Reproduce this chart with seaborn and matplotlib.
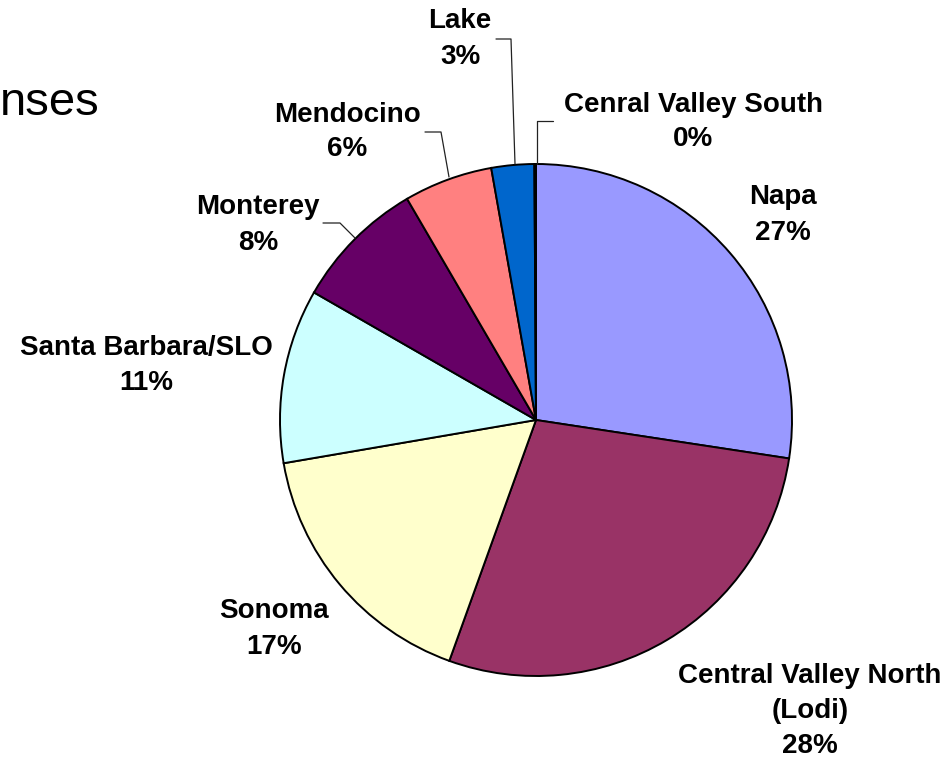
import seaborn as sns
import matplotlib.pyplot as plt

# slice values (percent of responses), clockwise from 12 o'clock
regions = ['Napa', 'Central Valley North\n(Lodi)', 'Sonoma', 'Santa Barbara/SLO',
           'Monterey', 'Mendocino', 'Lake', 'Cenral Valley South']
shares = [27.4, 28.1, 16.8, 11.0, 8.3, 5.6, 2.7, 0.1]
colors = ['#9999FF', '#993366', '#FFFFCC', '#CCFFFF',
          '#660066', '#FF8080', '#0066CC', '#CCCCFF']

# label block centres and leader lines, in pixels of the 950x766 figure
label_px = [(783, 215), (810, 711), (274, 629), (146, 366),
            (258, 225), (347, 132), (460, 39), (693, 122)]
leaders_px = {
    'Lake': [(496, 39), (511, 39), (515, 164)],
    'Cenral Valley South': [(553, 121), (537, 121), (537, 164)],
    'Mendocino': [(425, 132), (441, 132), (449, 177)],
    'Monterey': [(323, 223), (340, 223), (355, 238)],
}

sns.set_style('white')
plt.rcParams['font.family'] = ['Liberation Sans', 'DejaVu Sans']
plt.rcParams['text.color'] = 'black'

W, H = 950, 766
cx, cy, r = 536, 420, 256

fig = plt.figure(figsize=(W / 100, H / 100), dpi=100)
ax = fig.add_axes([(cx - r) / W, (H - cy - r) / H, 2 * r / W, 2 * r / H])
ax.pie(shares, colors=colors, startangle=90, counterclock=False,
       wedgeprops=dict(edgecolor='black', linewidth=1.4), radius=1)
ax.set_xlim(-1, 1)
ax.set_ylim(-1, 1)
ax.set_axis_off()


def to_data(px, py):
    return (px - cx) / r, (cy - py) / r


total = sum(shares)
for name, val, (px, py) in zip(regions, shares, label_px):
    x, y = to_data(px, py)
    pct = round(100 * val / total)
    ax.text(x, y, f'{name}\n{pct}%', ha='center', va='center', fontsize=20,
            fontweight='bold', linespacing=1.45, color='black', clip_on=False)

for name, pts in leaders_px.items():
    xs, ys = zip(*[to_data(p, q) for p, q in pts])
    ax.plot(xs, ys, color='#222222', lw=0.9, clip_on=False)

# title is cropped at the left edge in the reference; only its tail shows
fig.text(100 / W, 1 - 115 / H, 'nses', ha='right', va='baseline',
         fontsize=34, color='black')

fig.savefig('out.png', dpi=100, facecolor='white')
